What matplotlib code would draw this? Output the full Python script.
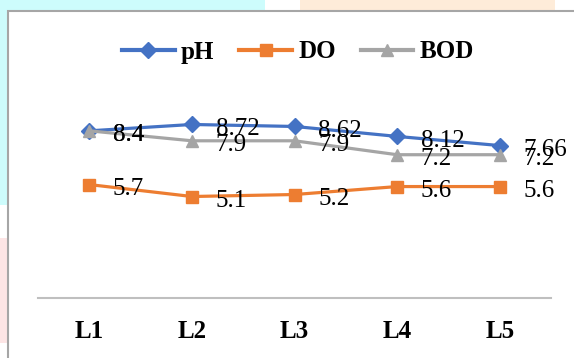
import matplotlib
matplotlib.use("Agg")
import matplotlib.pyplot as plt
from matplotlib.patches import Rectangle

categories = ["L1", "L2", "L3", "L4", "L5"]
ph = [8.4, 8.72, 8.62, 8.12, 7.66]
do = [5.7, 5.1, 5.2, 5.6, 5.6]
bod = [8.4, 7.9, 7.9, 7.2, 7.2]
series_names = ["pH", "DO", "BOD"]
colors = ["#4472C4", "#ED7D31", "#A5A5A5"]
markers = ["D", "s", "^"]

W, H = 574, 358
fig = plt.figure(figsize=(W / 100, H / 100), dpi=100)
fig.patch.set_facecolor("white")

def fx(x):
    return x / W

def fy(y):
    return 1 - y / H

# faint watermark patches outside the chart frame
fig.patches.append(Rectangle((0, fy(11)), fx(265), 11 / H, transform=fig.transFigure,
                             facecolor="#cdfcfc", edgecolor="none", zorder=0))
fig.patches.append(Rectangle((0, fy(205)), fx(8), 194 / H, transform=fig.transFigure,
                             facecolor="#cdfcfc", edgecolor="none", zorder=0))
fig.patches.append(Rectangle((fx(300), fy(11)), fx(255), 11 / H, transform=fig.transFigure,
                             facecolor="#feecd9", edgecolor="none", zorder=0))
fig.patches.append(Rectangle((0, fy(343)), fx(8), 105 / H, transform=fig.transFigure,
                             facecolor="#fde5e5", edgecolor="none", zorder=0))
# chart frame
fig.patches.append(Rectangle((fx(8), fy(365)), fx(600), 354 / H, transform=fig.transFigure,
                             facecolor="white", edgecolor="#a6a6a6", linewidth=1.5, zorder=1))

ax = fig.add_axes([fx(38), fy(298), fx(551 - 38), (298 - 99) / H])
ax.set_zorder(5)
ax.set_facecolor("none")
x = list(range(len(categories)))
ax.set_xlim(-0.5, len(categories) - 0.5)
ax.set_ylim(0, 10)

serif = ["Liberation Serif", "DejaVu Serif"]
handles = []
for vals, name, c, m in zip([ph, do, bod], series_names, colors, markers):
    ms = 8.5 if m == "D" else 9
    ln, = ax.plot(x, vals, color=c, linewidth=2.3, marker=m, markersize=ms,
                  markerfacecolor=c, markeredgecolor=c, label=name, clip_on=False, zorder=3)
    handles.append(ln)
    for xi, v in zip(x, vals):
        ax.annotate(f"{v:g}", (xi, v), xytext=(17, -3), textcoords="offset points",
                    ha="left", va="center", fontsize=18, family=serif, color="black",
                    zorder=4, annotation_clip=False)

for s in ["top", "left", "right"]:
    ax.spines[s].set_visible(False)
ax.spines["bottom"].set_color("#bfbfbf")
ax.spines["bottom"].set_linewidth(1.5)
ax.set_yticks([])
ax.set_xticks(x)
ax.set_xticklabels(categories, fontsize=18, fontweight="bold", family=serif)
ax.tick_params(axis="x", length=0, pad=15.5)

leg = fig.legend(handles=handles, labels=series_names, loc="center",
                 bbox_to_anchor=(fx(298), fy(52)), ncol=3, frameon=False,
                 prop={"family": serif, "weight": "bold", "size": 18},
                 handlelength=2.1, handletextpad=0.25, columnspacing=1.0)
for lh in leg.get_lines():
    lh.set_linewidth(3)

fig.savefig("out.png", dpi=100)
